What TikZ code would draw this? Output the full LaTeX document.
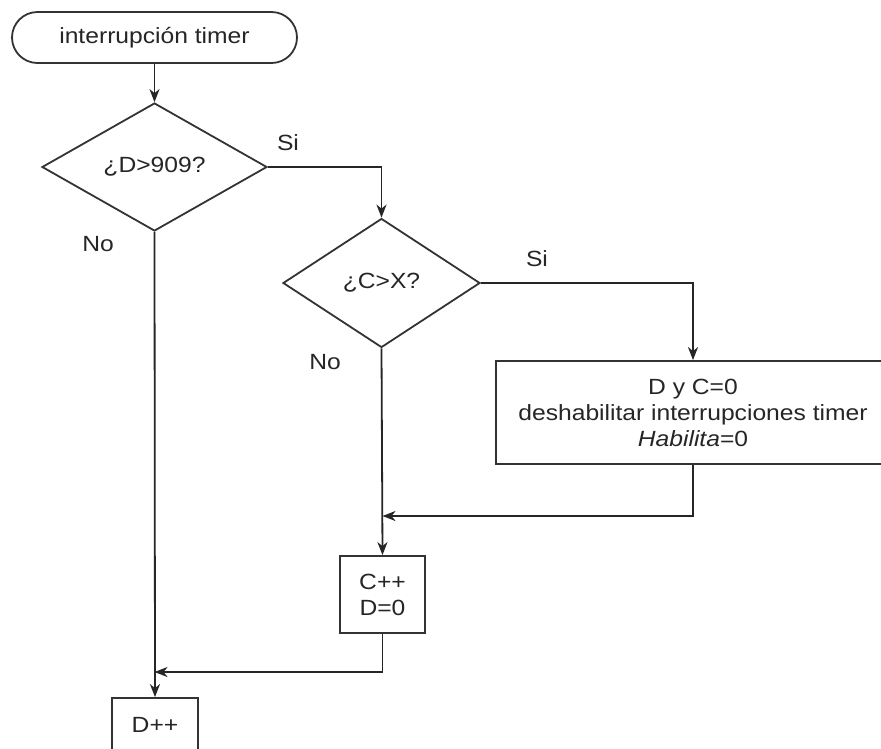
\documentclass[tikz,border=0pt]{standalone}
\usepackage{fontspec}
\setmainfont{Liberation Sans}[FakeStretch=1.12]
\usetikzlibrary{shapes.geometric,shapes.misc,arrows.meta}
\begin{document}
\begin{tikzpicture}[x=1pt,y=-1pt,
  line width=1.8pt,
  every node/.style={font=\fontsize{22}{26}\selectfont, text=black!85},
  flow/.style={draw=black!80, line width=1.8pt},
  decision/.style={flow, diamond, inner sep=0pt},
  procbox/.style={flow, rectangle, align=center, inner sep=0pt},
  terminal/.style={flow, rounded rectangle, inner sep=0pt},
  tag/.style={inner sep=0pt},
  arr/.style={draw=black!85, -{Stealth[length=13pt,width=10pt,inset=4pt]}}]
\useasboundingbox (0,0) rectangle (881,748);
\clip (0,0) rectangle (881,748);
\fill[white] (0,0) rectangle (881,748);

% blocks
\node[terminal, minimum width=285pt, minimum height=51pt] (start) at (154.5,37.5) {interrupción timer};
\node[decision, minimum width=225pt, minimum height=128pt] (d1) at (154.5,167) {¿D>909?};
\node[decision, minimum width=197pt, minimum height=129pt] (d2) at (381.5,283) {¿C>X?};
\node[procbox, minimum width=394pt, minimum height=103pt] (off) at (693,412.5)
  {D y C=0\\deshabilitar interrupciones timer\\\textit{Habilita}=0};
\node[procbox, minimum width=85pt, minimum height=77pt] (inc) at (382.5,594.5) {C++\\D=0};
\node[procbox, minimum width=86pt, minimum height=80pt] (dpp) at (155,738) {};
\node[tag] at (155,725) {D++};

% branch labels
\node[tag] (si1) at (288,143) {Si};
\node[tag] (no1) at (98,244) {No};
\node[tag] (si2) at (537,259) {Si};
\node[tag] (no2) at (325,362) {No};

% join points
\coordinate (j1) at (off.south |- 0,516);
\coordinate (m1) at (inc.north |- j1);
\coordinate (j2) at (inc.south |- 0,672);
\coordinate (m2) at (d1.south |- j2);

% connectors
\draw[arr] (start.south) -- (d1.north);
\draw[arr] (d1.east) -| (d2.north);
\draw[arr] (d2.east) -| (off.north);
\draw[arr] (d2.south) -- (inc.north);
\draw[arr] (off.south) |- (m1);
\draw[arr] (d1.south) -- (dpp.north);
\draw[arr] (inc.south) |- (m2);
\end{tikzpicture}
\end{document}
